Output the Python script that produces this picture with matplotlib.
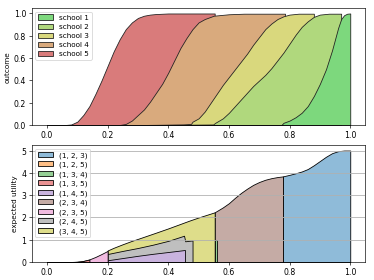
import matplotlib.pyplot as plt

# --- top panel: admission curves per school ---
s5_x = [0.0, 0.06, 0.08, 0.10, 0.12, 0.14, 0.16, 0.18, 0.20, 0.22, 0.24, 0.26,
        0.28, 0.30, 0.32, 0.34, 0.36, 0.40, 0.553]
s5_y = [0.0, 0.0, 0.005, 0.03, 0.09, 0.17, 0.28, 0.40, 0.53, 0.66, 0.77, 0.86,
        0.92, 0.96, 0.98, 0.99, 0.995, 1.0, 1.0]

s4_x = [0.0, 0.24, 0.26, 0.28, 0.30, 0.32, 0.34, 0.36, 0.38, 0.40, 0.42, 0.44,
        0.46, 0.48, 0.50, 0.52, 0.55, 0.60, 0.65, 0.785]
s4_y = [0.0, 0.0, 0.01, 0.04, 0.09, 0.14, 0.21, 0.29, 0.37, 0.47, 0.58, 0.69,
        0.78, 0.86, 0.92, 0.95, 0.98, 0.993, 0.998, 0.998]

s3_x = [0.0, 0.30, 0.45, 0.475, 0.48, 0.50, 0.52, 0.54, 0.56, 0.58, 0.60, 0.62,
        0.64, 0.66, 0.68, 0.70, 0.72, 0.74, 0.76, 0.78, 0.80, 0.83, 0.88]
s3_y = [0.0, 0.0, 0.005, 0.01, 0.03, 0.06, 0.12, 0.20, 0.28, 0.36, 0.43, 0.50,
        0.57, 0.64, 0.72, 0.79, 0.86, 0.91, 0.95, 0.975, 0.99, 0.998, 0.998]

s2_x = [0.0, 0.35, 0.548, 0.555, 0.58, 0.60, 0.62, 0.64, 0.66, 0.68, 0.70, 0.72,
        0.74, 0.76, 0.78, 0.80, 0.82, 0.84, 0.86, 0.88, 0.90, 0.93, 0.97]
s2_y = [0.0, 0.0, 0.005, 0.02, 0.06, 0.11, 0.17, 0.23, 0.29, 0.35, 0.40, 0.45,
        0.51, 0.58, 0.65, 0.73, 0.81, 0.88, 0.93, 0.97, 0.99, 0.998, 0.998]

s1_x = [0.0, 0.773, 0.78, 0.80, 0.82, 0.84, 0.86, 0.88, 0.90, 0.92, 0.94, 0.95,
        0.96, 0.97, 0.98, 0.99, 1.0]
s1_y = [0.0, 0.0, 0.02, 0.04, 0.07, 0.11, 0.17, 0.26, 0.37, 0.50, 0.67, 0.77,
        0.87, 0.95, 0.985, 0.998, 1.0]

school_labels = ['school 1', 'school 2', 'school 3', 'school 4', 'school 5']
school_colors = ['#7dd87d', '#b0d87d', '#d9d87d', '#d9aa7d', '#d97b7b']

# --- bottom panel: expected utility of the chosen portfolio ---
port_labels = ['(1, 2, 3)', '(1, 2, 5)', '(1, 3, 4)', '(1, 3, 5)', '(1, 4, 5)',
               '(2, 3, 4)', '(2, 3, 5)', '(2, 4, 5)', '(3, 4, 5)']
port_colors = ['#8fbbd9', '#ffbf86', '#95cf95', '#ea9293', '#c9b3de',
               '#c5aba5', '#f1bbe0', '#bfbfbf', '#dedd8a']

p123_x = [0.778, 0.80, 0.82, 0.84, 0.86, 0.88, 0.90, 0.92, 0.94, 0.96, 0.98, 1.0]
p123_y = [3.84, 3.91, 3.98, 4.06, 4.17, 4.34, 4.53, 4.72, 4.88, 4.97, 5.0, 5.0]

p125_x = [0.0, 0.07, 0.09, 0.11, 0.12]
p125_y = [0.0, 0.0, 0.01, 0.03, 0.05]

p134_x = [0.553, 0.562]
p134_y = [1.0, 1.0]

p135_x = [0.12, 0.13, 0.14]
p135_y = [0.05, 0.08, 0.11]

p145_x = [0.2, 0.25, 0.30, 0.35, 0.40, 0.455]
p145_y = [0.08, 0.18, 0.28, 0.37, 0.45, 0.54]

p234_x = [0.553, 0.58, 0.60, 0.62, 0.64, 0.66, 0.68, 0.70, 0.72, 0.74, 0.76, 0.778]
p234_y = [2.23, 2.45, 2.64, 2.88, 3.10, 3.29, 3.46, 3.59, 3.69, 3.76, 3.81, 3.84]

p235_x = [0.10, 0.12, 0.14, 0.16, 0.18, 0.20]
p235_y = [0.01, 0.05, 0.12, 0.23, 0.36, 0.50]

p245_x = [0.2, 0.25, 0.30, 0.35, 0.40, 0.452, 0.456, 0.48]
p245_y = [0.36, 0.50, 0.63, 0.78, 0.95, 1.18, 0.93, 0.97]

p345_x = [0.2, 0.22, 0.25, 0.28, 0.30, 0.33, 0.36, 0.40, 0.43, 0.45, 0.47, 0.50, 0.53, 0.553]
p345_y = [0.52, 0.64, 0.80, 0.95, 1.04, 1.18, 1.32, 1.51, 1.66, 1.76, 1.86, 2.0, 2.13, 2.23]

plt.rcParams['font.size'] = 9
plt.rcParams['xtick.labelsize'] = 9.5
plt.rcParams['ytick.labelsize'] = 9.5
plt.rcParams['legend.labelspacing'] = 0.4
fig, (ax1, ax2) = plt.subplots(2, 1, figsize=(6.4, 4.8), dpi=58.44)
fig.subplots_adjust(left=0.085, right=0.977, top=0.97, bottom=0.064, hspace=0.17)

# top: draw school 5 first, school 1 last so the right-most sits on top
top = [(s1_x, s1_y), (s2_x, s2_y), (s3_x, s3_y), (s4_x, s4_y), (s5_x, s5_y)]
handles = [None] * 5
for i in range(4, -1, -1):
    xs, ys = top[i]
    handles[i] = ax1.fill_between(xs, 0, ys, facecolor=school_colors[i],
                                  edgecolor='#222222', linewidth=1.0)
ax1.set_ylim(0, 1.05)
ax1.set_xlim(-0.05, 1.05)
ax1.set_ylabel('outcome')
ax1.legend(handles, school_labels, loc='upper left')

# bottom
bottom = {
    '(1, 2, 3)': (p123_x, p123_y), '(1, 2, 5)': (p125_x, p125_y),
    '(1, 3, 4)': (p134_x, p134_y), '(1, 3, 5)': (p135_x, p135_y),
    '(1, 4, 5)': (p145_x, p145_y), '(2, 3, 4)': (p234_x, p234_y),
    '(2, 3, 5)': (p235_x, p235_y), '(2, 4, 5)': (p245_x, p245_y),
    '(3, 4, 5)': (p345_x, p345_y),
}
draw_order = ['(1, 2, 3)', '(2, 3, 4)', '(3, 4, 5)', '(2, 4, 5)', '(1, 4, 5)',
              '(1, 3, 4)', '(2, 3, 5)', '(1, 2, 5)', '(1, 3, 5)']
hmap = {}
for lab in draw_order:
    xs, ys = bottom[lab]
    c = port_colors[port_labels.index(lab)]
    hmap[lab] = ax2.fill_between(xs, 0, ys, facecolor=c, edgecolor='black',
                                 linewidth=1.0)
ax2.set_ylim(0, 5.25)
ax2.set_xlim(-0.05, 1.05)
ax2.yaxis.grid(True, color='#b0b0b0', linewidth=1.0)
ax2.set_ylabel('expected utility')
ax2.legend([hmap[l] for l in port_labels], port_labels, loc='upper left')

fig.savefig('out.png', dpi=58.44)
